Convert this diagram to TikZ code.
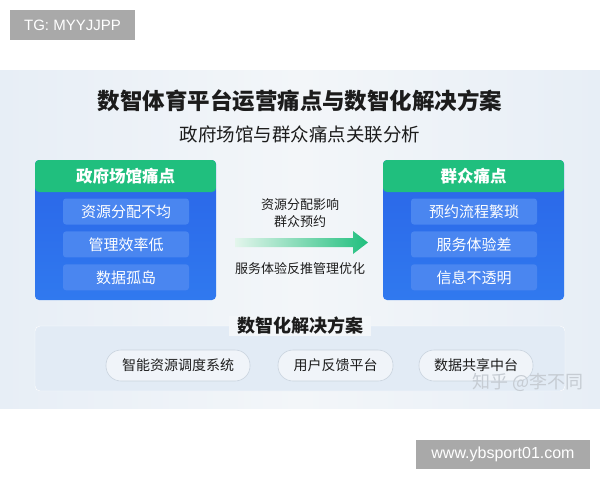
\documentclass[tikz,border=0pt]{standalone}
\usepackage{fontspec}
\setmainfont{Liberation Sans}
\newfontfamily\cjk{Noto Sans CJK SC}
\usetikzlibrary{positioning,calc}
\definecolor{bgedge}{HTML}{E7EEF6}
\definecolor{bgmid}{HTML}{F3F6F9}
\definecolor{hdgreen}{HTML}{20BF7E}
\definecolor{bodytop}{HTML}{2A65E8}
\definecolor{bodybot}{HTML}{3079EF}
\definecolor{itemblue}{HTML}{4A86F0}
\definecolor{arrowfade}{HTML}{E3F5EC}
\definecolor{solpanel}{HTML}{E2EBF5}
\definecolor{pillfill}{HTML}{F0F4F9}
\definecolor{pillline}{HTML}{C9D3DE}
\definecolor{inkdark}{HTML}{1C1C1C}
\definecolor{stampgray}{HTML}{A9A9A9}
\definecolor{zhgray}{HTML}{C6CCD3}
\tikzstyle{painbox} = [rectangle, rounded corners=4pt, minimum width=181pt, minimum height=140pt, top color=bodytop, bottom color=bodybot, path picture={\fill[hdgreen] (path picture bounding box.north west) rectangle ([yshift=-32pt]path picture bounding box.north east);}]
\tikzstyle{painhead} = [text=white, font=\cjk\bfseries\fontsize{16.5}{20}\selectfont]
\tikzstyle{painitem} = [rectangle, rounded corners=3pt, fill=itemblue, text=white, minimum width=126pt, minimum height=26pt, inner sep=0pt, font=\cjk\fontsize{15}{18}\selectfont]
\tikzstyle{pill} = [rectangle, rounded corners=15pt, fill=pillfill, draw=pillline, line width=0.6pt, minimum height=31pt, inner sep=0pt, text=inkdark, font=\cjk\fontsize{14}{17}\selectfont]
\tikzstyle{note} = [text=inkdark, align=center, font=\cjk\fontsize{13}{17}\selectfont]
\tikzstyle{stamp} = [rectangle, fill=stampgray, text=white, inner sep=0pt, font=\fontsize{15}{18}\selectfont]

\begin{document}
\begin{tikzpicture}[x=1pt,y=-1pt]
  \useasboundingbox (0,0) rectangle (600,480);
  \fill[white] (0,0) rectangle (600,480);
  \shade[left color=bgedge, right color=bgedge, middle color=bgmid] (0,70) rectangle (600,408);

  \node[stamp, minimum width=125pt, minimum height=30pt] (tg) at (72.5,25) {TG: MYYJJPP};

  \node[text=inkdark, font=\cjk\bfseries\fontsize{22.5}{27}\selectfont] (title) at (300,101) {数智体育平台运营痛点与数智化解决方案};
  \node[text=inkdark, font=\cjk\fontsize{18.5}{22}\selectfont] (subtitle) at (300,134) {政府场馆与群众痛点关联分析};

  \node[painbox] (gov) at (125.5,230) {};
  \node[painhead] (govhead) at ([yshift=-16pt]gov.north) {政府场馆痛点};
  \node[painitem] (govA) at (126,211.5) {资源分配不均};
  \node[painitem] (govB) [below=6.5pt of govA] {管理效率低};
  \node[painitem] (govC) [below=6.5pt of govB] {数据孤岛};

  \node[painbox] (pub) at (473.5,230) {};
  \node[painhead] (pubhead) at ([yshift=-16pt]pub.north) {群众痛点};
  \node[painitem] (pubA) at (474,211.5) {预约流程繁琐};
  \node[painitem] (pubB) [below=6.5pt of pubA] {服务体验差};
  \node[painitem] (pubC) [below=6.5pt of pubB] {信息不透明};

  \coordinate (arrS) at (235,242.5);
  \coordinate (arrE) at (368,242.5);
  \shade[left color=arrowfade, right color=hdgreen] ($(arrS)+(0,-4.5)$) -- ($(arrE)+(-15,-4.5)$) -- ($(arrE)+(-15,-11.5)$) -- (arrE) -- ($(arrE)+(-15,11.5)$) -- ($(arrE)+(-15,4.5)$) -- ($(arrS)+(0,4.5)$) -- cycle;
  \node[note] (flowup) at (300,213.5) {资源分配影响\\群众预约};
  \node[note] (flowdown) at (300,269) {服务体验反推管理优化};

  \node[rectangle, rounded corners=5pt, fill=solpanel, draw=white, minimum width=530pt, minimum height=65pt] (solbox) at (300,358.5) {};
  \node[fill=bgmid, inner xsep=8pt, inner ysep=1pt, text=inkdark, font=\cjk\bfseries\fontsize{18}{22}\selectfont] (soltitle) at (solbox.north) {数智化解决方案};
  \node[pill, minimum width=144pt] (solA) at (178,365.5) {智能资源调度系统};
  \node[pill, minimum width=115pt] (solB) at (335.5,365.5) {用户反馈平台};
  \node[pill, minimum width=114pt] (solC) at (476,365.5) {数据共享中台};

  \node[text=zhgray, font=\cjk\fontsize{18}{22}\selectfont] (zhihu) at (528,382) {知乎 @李不同};

  \node[stamp, minimum width=174pt, minimum height=29pt, font=\fontsize{16}{19}\selectfont] (site) at (503,454.5) {www.ybsport01.com};
\end{tikzpicture}
\end{document}
